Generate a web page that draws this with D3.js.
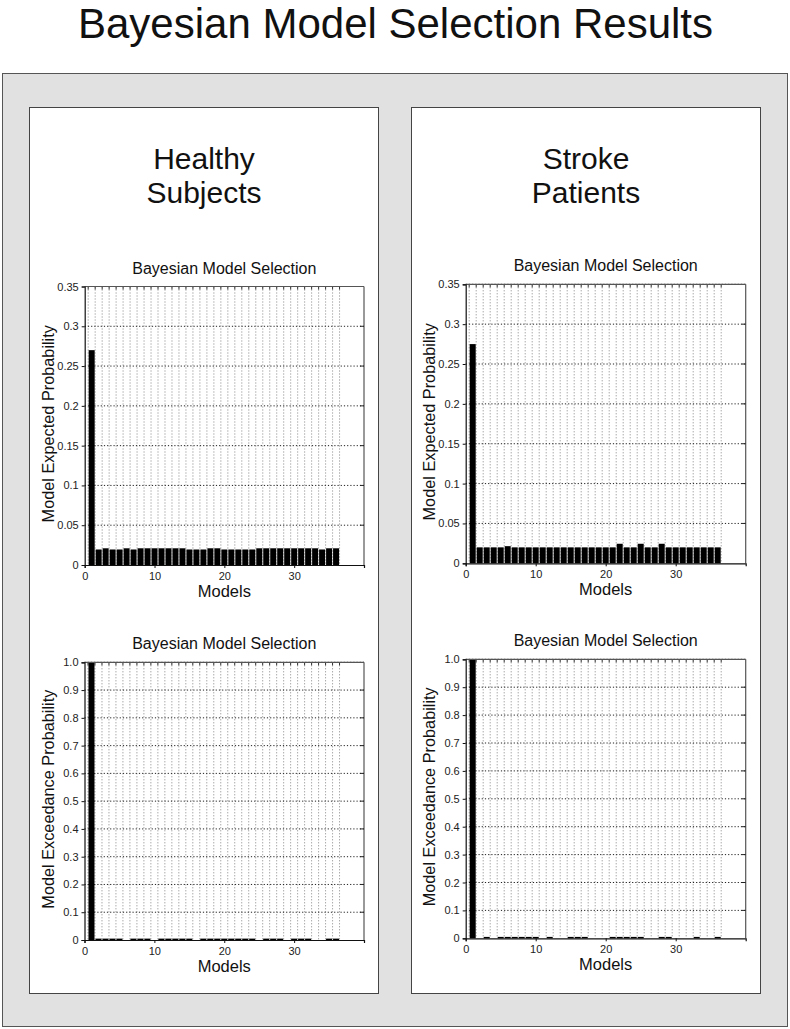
<!DOCTYPE html>
<html>
<head>
<meta charset="utf-8">
<script src="https://cdn.jsdelivr.net/npm/d3@7"></script>
<style>
html,body{margin:0;padding:0;background:#fff;}
svg{display:block;font-family:"Liberation Sans",Arial,Helvetica,sans-serif;}
</style>
</head>
<body>
<svg id="chart" width="790" height="1029"></svg>
<script>
// ---------- DATA ----------
const models = [1,2,3,4,5,6,7,8,9,10,11,12,13,14,15,16,17,18,19,20,21,22,23,24,25,26,27,28,29,30,31,32,33,34,35,36];

const healthyExpected = [0.270,0.0195,0.021,0.0195,0.0195,0.021,0.0195,0.021,0.021,0.021,
  0.021,0.021,0.021,0.021,0.0195,0.0195,0.0195,0.021,0.021,0.0195,
  0.0195,0.0195,0.0195,0.0195,0.021,0.021,0.021,0.021,0.021,0.021,
  0.021,0.021,0.021,0.0195,0.021,0.021];

const strokeExpected = [0.275,0.020,0.020,0.020,0.020,0.0215,0.020,0.020,0.020,0.020,
  0.020,0.020,0.020,0.020,0.020,0.020,0.020,0.020,0.020,0.020,
  0.020,0.0245,0.020,0.020,0.0245,0.020,0.020,0.0245,0.020,0.020,
  0.020,0.020,0.020,0.020,0.020,0.020];

const healthyExceedance = [1.0,0.005,0.005,0.005,0.005,0,0.005,0.005,0.005,0,
  0.005,0.005,0.005,0.005,0.005,0,0.005,0.005,0.005,0.005,
  0.005,0.005,0.005,0.005,0,0.005,0.005,0.005,0,0.005,
  0.005,0.005,0,0,0.005,0.005];

const strokeExceedance = [1.0,0,0.005,0,0.005,0.005,0.005,0.005,0.005,0.005,
  0,0.005,0,0,0.005,0.005,0.005,0,0,0,
  0.005,0.005,0.005,0.005,0.005,0,0,0.005,0.005,0,
  0,0,0.005,0,0,0.005];

const xTicks = [0,10,20,30];
const expectedTicks = [0,0.05,0.1,0.15,0.2,0.25,0.3,0.35];
const expectedTickLabels = ["0","0.05","0.1","0.15","0.2","0.25","0.3","0.35"];
const exceedTicks = [0,0.1,0.2,0.3,0.4,0.5,0.6,0.7,0.8,0.9,1.0];
const exceedTickLabels = ["0","0.1","0.2","0.3","0.4","0.5","0.6","0.7","0.8","0.9","1.0"];
const gridPositions = [0.5,1.5,2.5,3.5,4.5,5.5,6.5,7.5,8.5,9.5,10.5,11.5,12.5,13.5,14.5,15.5,16.5,17.5,18.5,19.5,
  20.5,21.5,22.5,23.5,24.5,25.5,26.5,27.5,28.5,29.5,30.5,31.5,32.5,33.5,34.5,35.5,36.5];

const mainTitle = "Bayesian Model Selection Results";
const groupTitles = [["Healthy","Subjects"],["Stroke","Patients"]];
const chartTitle = "Bayesian Model Selection";
const xLabel = "Models";
const yLabelExpected = "Model Expected Probability";
const yLabelExceed = "Model Exceedance Probability";

// ---------- DRAW ----------
const svg = d3.select("#chart");

svg.append("text").attr("x",395.5).attr("y",38).attr("text-anchor","middle")
  .attr("font-size",42).attr("fill","#111").text(mainTitle);

svg.append("rect").attr("x",2.5).attr("y",73.5).attr("width",785).attr("height",953)
  .attr("fill","#e1e1e1").attr("stroke","#555").attr("stroke-width",1);

const panels = [{x:29.5,y:107.5,w:349,h:886},{x:411.5,y:107.5,w:349,h:886}];
panels.forEach((p,i)=>{
  svg.append("rect").attr("x",p.x).attr("y",p.y).attr("width",p.w).attr("height",p.h)
    .attr("fill","#fff").attr("stroke","#444").attr("stroke-width",1);
  const cx = p.x + p.w/2;
  svg.append("text").attr("x",cx).attr("y",169).attr("text-anchor","middle")
    .attr("font-size",30).attr("fill","#111").text(groupTitles[i][0]);
  svg.append("text").attr("x",cx).attr("y",203).attr("text-anchor","middle")
    .attr("font-size",30).attr("fill","#111").text(groupTitles[i][1]);
});

function drawChart(box, values, yMax, ticks, tickLabels, yLabel){
  const x = d3.scaleLinear().domain([0,40]).range([box.x0, box.x1]);
  const y = d3.scaleLinear().domain([0,yMax]).range([box.y1, box.y0]);
  const g = svg.append("g");

  // vertical minor grid (dotted)
  g.selectAll("line.vg").data(gridPositions).enter().append("line")
    .attr("x1",d=>x(d)).attr("x2",d=>x(d)).attr("y1",box.y0).attr("y2",box.y1)
    .attr("stroke","#777").attr("stroke-width",0.9).attr("stroke-dasharray","1,2");
  // small ticks at top of each vertical grid line
  g.selectAll("line.vt").data(gridPositions).enter().append("line")
    .attr("x1",d=>x(d)).attr("x2",d=>x(d)).attr("y1",box.y0).attr("y2",box.y0+3)
    .attr("stroke","#333").attr("stroke-width",1);
  // horizontal major grid
  g.selectAll("line.hg").data(ticks.slice(1)).enter().append("line")
    .attr("x1",box.x0).attr("x2",box.x1).attr("y1",d=>y(d)).attr("y2",d=>y(d))
    .attr("stroke","#222").attr("stroke-width",1).attr("stroke-dasharray","1.2,2");

  // bars
  const bw = 0.86;
  g.selectAll("rect.bar").data(values).enter().append("rect")
    .attr("x",(d,i)=>x(models[i]-bw/2))
    .attr("width",x(bw)-x(0))
    .attr("y",d=>y(d))
    .attr("height",d=>box.y1-y(d))
    .attr("fill","#000");

  // frame
  g.append("line").attr("x1",box.x0).attr("x2",box.x1).attr("y1",box.y0).attr("y2",box.y0)
    .attr("stroke","#555").attr("stroke-width",1.2);
  g.append("line").attr("x1",box.x1).attr("x2",box.x1).attr("y1",box.y0).attr("y2",box.y1)
    .attr("stroke","#555").attr("stroke-width",1.2);
  // right inward ticks
  g.selectAll("line.rt").data(ticks.slice(1,-1)).enter().append("line")
    .attr("x1",box.x1-4).attr("x2",box.x1).attr("y1",d=>y(d)).attr("y2",d=>y(d))
    .attr("stroke","#222").attr("stroke-width",1);

  // axes
  const xAxis = d3.axisBottom(x).tickValues(xTicks).tickSize(3).tickPadding(4)
    .tickFormat(d=>String(d));
  const gx = g.append("g").attr("transform",`translate(0,${box.y1})`).call(xAxis);
  gx.select(".domain").attr("stroke","#111").attr("stroke-width",1.2);
  gx.selectAll(".tick line").attr("stroke","#111");
  gx.selectAll(".tick text").attr("font-size",11).attr("fill","#222")
    .attr("font-family","'Liberation Sans',Arial,sans-serif");

  const yAxis = d3.axisLeft(y).tickValues(ticks).tickSize(3).tickPadding(3)
    .tickFormat((d,i)=>tickLabels[i]);
  const gy = g.append("g").attr("transform",`translate(${box.x0},0)`).call(yAxis);
  gy.select(".domain").attr("stroke","#111").attr("stroke-width",1.2);
  gy.selectAll(".tick line").attr("stroke","#111");
  gy.selectAll(".tick text").attr("font-size",11).attr("fill","#222")
    .attr("font-family","'Liberation Sans',Arial,sans-serif");

  // titles
  g.append("text").attr("x",(box.x0+box.x1)/2).attr("y",box.y0-13)
    .attr("text-anchor","middle").attr("font-size",16).attr("fill","#111").text(chartTitle);
  g.append("text").attr("x",(box.x0+box.x1)/2).attr("y",box.y1+32)
    .attr("text-anchor","middle").attr("font-size",16.5).attr("fill","#111").text(xLabel);
  g.append("text")
    .attr("transform",`translate(${box.x0-31},${(box.y0+box.y1)/2 - 2}) rotate(-90)`)
    .attr("text-anchor","middle").attr("font-size",16.3).attr("fill","#111").text(yLabel);
}

drawChart({x0:84.7,x1:364,y0:286.5,y1:565}, healthyExpected, 0.35, expectedTicks, expectedTickLabels, yLabelExpected);
drawChart({x0:465.7,x1:745.7,y0:284.3,y1:563.3}, strokeExpected, 0.35, expectedTicks, expectedTickLabels, yLabelExpected);
drawChart({x0:84.5,x1:364,y0:662.3,y1:940}, healthyExceedance, 1.0, exceedTicks, exceedTickLabels, yLabelExceed);
drawChart({x0:465.7,x1:745.7,y0:659.3,y1:938.3}, strokeExceedance, 1.0, exceedTicks, exceedTickLabels, yLabelExceed);
</script>
</body>
</html>
